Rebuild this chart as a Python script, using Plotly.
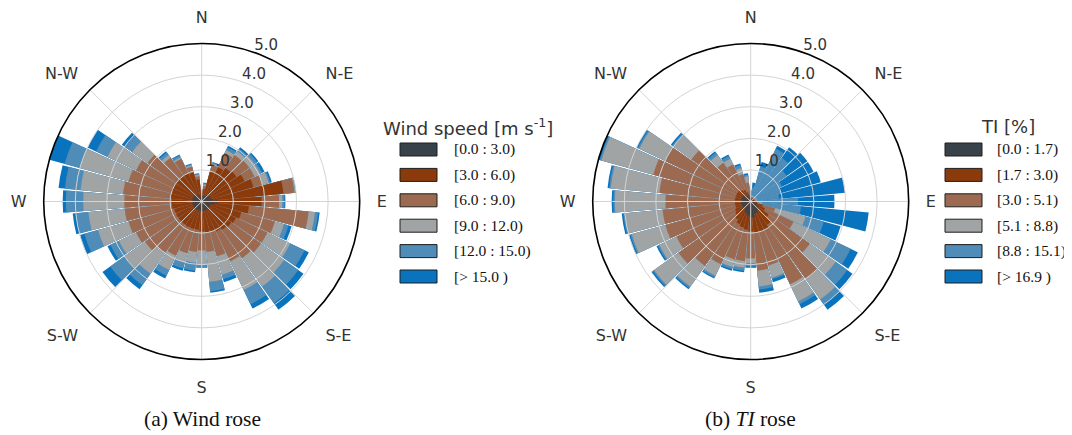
import plotly.graph_objects as go

W, H = 1072, 435
OFF = 8  # default body margin of the written page

# ---------------- data ----------------
directions = [0, 10, 20, 30, 40, 50, 60, 70, 80, 90, 100, 110, 120, 130, 140, 150, 160, 170,
              180, 190, 200, 210, 220, 230, 240, 250, 260, 270, 280, 290, 300, 310, 320, 330, 340, 350]

# total frequency per direction sector (same in both roses)
total_freq = [0.35, 0.6, 1.3, 1.95, 2.1, 2.2, 2.2, 2.3, 3.0, 2.65, 3.75, 2.95, 3.75, 3.95, 4.2, 3.75, 2.65, 2.9,
              2.1, 2.25, 2.27, 2.7, 3.4, 3.85, 3.3, 4.0, 4.1, 4.4, 4.55, 5.0, 4.0, 3.1, 1.95, 1.65, 1.25, 0.9]

# cumulative frequency of wind speed below each class upper bound
speed_below_3 = [0.15, 0.2, 0.2, 0.2, 0.25, 0.25, 0.3, 0.3, 0.35, 0.5, 0.4, 0.3, 0.3, 0.3, 0.3, 0.3, 0.3, 0.3,
                 0.3, 0.3, 0.3, 0.3, 0.3, 0.3, 0.3, 0.3, 0.3, 0.3, 0.3, 0.3, 0.3, 0.3, 0.25, 0.25, 0.2, 0.15]
speed_below_6 = [0.25, 0.4, 1.0, 1.2, 1.3, 1.35, 1.5, 1.7, 2.6, 1.9, 1.5, 1.3, 1.2, 1.15, 1.1, 1.05, 1.0, 1.0,
                 0.95, 0.9, 0.9, 0.9, 0.9, 0.9, 0.9, 0.9, 0.95, 0.95, 1.0, 1.0, 1.0, 1.0, 1.0, 1.0, 0.95, 0.7]
speed_below_9 = [0.3, 0.5, 1.2, 1.7, 1.8, 1.85, 1.85, 2.0, 2.95, 2.45, 3.4, 2.4, 2.3, 2.3, 2.2, 2.1, 1.8, 1.6,
                 1.55, 1.6, 1.7, 1.9, 2.0, 2.2, 2.3, 2.4, 2.45, 2.45, 2.5, 2.4, 2.3, 2.1, 1.7, 1.5, 1.15, 0.8]
speed_below_12 = [0.33, 0.55, 1.25, 1.8, 1.95, 2.05, 2.05, 2.2, 2.97, 2.55, 3.6, 2.7, 3.1, 3.2, 3.3, 3.1, 2.4, 2.55,
                  2.0, 1.95, 2.0, 2.4, 2.8, 3.0, 2.9, 3.4, 3.6, 3.75, 3.85, 4.0, 3.3, 2.7, 1.8, 1.55, 1.2, 0.85]
speed_below_15 = [0.34, 0.58, 1.28, 1.9, 2.05, 2.15, 2.12, 2.25, 2.99, 2.62, 3.7, 2.85, 3.6, 3.75, 3.95, 3.6, 2.55, 2.85,
                  2.07, 2.2, 2.2, 2.6, 3.25, 3.55, 3.2, 3.85, 4.0, 4.3, 4.35, 4.5, 3.7, 3.0, 1.9, 1.62, 1.23, 0.88]

# cumulative frequency of turbulence intensity below each class upper bound
ti_below_1_7 = [0.1, 0.1, 0.1, 0.1, 0.1, 0.1, 0.1, 0.1, 0.1, 0.12, 0.15, 0.2, 0.25, 0.3, 0.35, 0.4, 0.4, 0.5,
                0.5, 0.45, 0.4, 0.35, 0.3, 0.3, 0.3, 0.3, 0.3, 0.3, 0.3, 0.3, 0.3, 0.3, 0.25, 0.2, 0.15, 0.1]
ti_below_3_0 = [0.12, 0.12, 0.12, 0.12, 0.12, 0.12, 0.12, 0.12, 0.13, 0.15, 0.2, 0.4, 0.5, 0.7, 0.9, 1.0, 1.0, 1.0,
                0.95, 0.9, 0.85, 0.8, 0.7, 0.6, 0.55, 0.5, 0.5, 0.5, 0.5, 0.5, 0.5, 0.5, 0.45, 0.4, 0.3, 0.2]
ti_below_5_1 = [0.14, 0.15, 0.15, 0.15, 0.15, 0.15, 0.15, 0.15, 0.16, 0.2, 0.25, 0.8, 1.5, 2.3, 3.0, 2.9, 2.1, 2.2,
                1.8, 1.9, 1.9, 2.2, 2.5, 2.8, 2.6, 2.8, 2.8, 2.7, 2.9, 3.2, 3.0, 2.3, 1.5, 1.3, 0.9, 0.6]
ti_below_8_8 = [0.16, 0.2, 0.2, 0.2, 0.2, 0.2, 0.2, 0.2, 0.2, 0.25, 0.35, 1.8, 2.8, 3.3, 3.8, 3.5, 2.5, 2.7,
                1.95, 2.1, 2.15, 2.6, 3.3, 3.75, 3.2, 3.9, 4.0, 4.3, 4.45, 4.9, 3.9, 3.0, 1.8, 1.5, 1.1, 0.8]
ti_below_15_1 = [0.3, 0.45, 1.15, 1.85, 1.7, 1.4, 1.1, 1.0, 0.9, 1.5, 1.6, 2.4, 3.5, 3.75, 4.0, 3.6, 2.55, 2.8,
                 2.05, 2.2, 2.22, 2.66, 3.36, 3.8, 3.25, 3.95, 4.05, 4.35, 4.5, 4.95, 3.95, 3.05, 1.9, 1.6, 1.2, 0.85]

speed_labels = ["[0.0 : 3.0)", "[3.0 : 6.0)", "[6.0 : 9.0)", "[9.0 : 12.0)", "[12.0 : 15.0)", "[> 15.0 )"]
ti_labels = ["[0.0 : 1.7)", "[1.7 : 3.0)", "[3.0 : 5.1)", "[5.1 : 8.8)", "[8.8 : 15.1)", "[> 16.9 )"]

compass_vals = [0, 45, 90, 135, 180, 225, 270, 315]
compass_text = ["N", "N-E", "E", "S-E", "S", "S-W", "W", "N-W"]
radial_vals = [1, 2, 3, 4, 5]
radial_text = ["1.0", "2.0", "3.0", "4.0", "5.0"]
RADIAL_LABEL_THETA = 22.5   # direction along which the radial tick labels sit
RADIAL_LABEL_SHIFT = 0.33   # labels sit just outside their ring

colors = ["#3a4249", "#8b3a0c", "#9b6a51", "#a1a4a5", "#4f8cb7", "#0a73be"]
GRID = "#d2d4d6"
TXT = "#333333"

R_MAX = 5.0          # radial range of the roses
R_LABEL_MAX = 6.0    # radial range of the (larger) label layer

speed_layers = [speed_below_3, speed_below_6, speed_below_9, speed_below_12, speed_below_15, total_freq]
ti_layers = [ti_below_1_7, ti_below_3_0, ti_below_5_1, ti_below_8_8, ti_below_15_1, total_freq]

fig = go.Figure()

# bars: draw largest cumulative first, smaller on top (overlay)
for subplot, layers in (("polar", speed_layers), ("polar2", ti_layers)):
    for k in reversed(range(6)):
        fig.add_trace(go.Barpolar(
            r=layers[k], theta=directions, width=9.3,
            marker=dict(color=colors[k], line=dict(width=0)),
            subplot=subplot, showlegend=False, hoverinfo="skip"))

# grid overlay subplots need a (empty) trace
for subplot in ("polar3", "polar4"):
    fig.add_trace(go.Barpolar(r=[], theta=[], subplot=subplot, showlegend=False, hoverinfo="skip"))

# radial tick labels on a concentric label layer with a larger range (same scale)
for subplot in ("polar5", "polar6"):
    fig.add_trace(go.Scatterpolar(
        r=[v + RADIAL_LABEL_SHIFT for v in radial_vals],
        theta=[RADIAL_LABEL_THETA] * len(radial_vals),
        text=radial_text, mode="text", textposition="middle center",
        textfont=dict(family="DejaVu Sans", size=15, color=TXT),
        cliponaxis=False, subplot=subplot, showlegend=False, hoverinfo="skip"))


def px_x(x):
    return (x - OFF) / W


def px_y(y):
    return 1 - (y - OFF) / H


CY = 201.5      # centre row of both roses (px)
RAD = 158.0     # outer radius (px)


def dom(cx, scale=1.0):
    r = RAD * scale
    return dict(x=[px_x(cx - r), px_x(cx + r)], y=[px_y(CY + r), px_y(CY - r)])


def base_polar(cx):
    return dict(
        domain=dom(cx), bgcolor="white", barmode="overlay",
        angularaxis=dict(rotation=90, direction="clockwise", showgrid=False, showline=False,
                         showticklabels=False, ticks=""),
        radialaxis=dict(range=[0, R_MAX], showgrid=False, showline=False, showticklabels=False, ticks=""),
    )


def grid_polar(cx):
    return dict(
        domain=dom(cx), bgcolor="rgba(0,0,0,0)",
        angularaxis=dict(rotation=90, direction="clockwise", tickmode="array",
                         tickvals=compass_vals, ticktext=compass_text,
                         showgrid=True, gridcolor=GRID, gridwidth=1.3,
                         showline=True, linecolor="black", linewidth=1.6,
                         ticks="outside", ticklen=13, tickcolor="rgba(0,0,0,0)",
                         tickfont=dict(family="DejaVu Sans", size=16, color=TXT)),
        radialaxis=dict(range=[0, R_MAX], tickmode="array", tickvals=radial_vals,
                        showticklabels=False, showline=False, ticks="",
                        showgrid=True, gridcolor=GRID, gridwidth=1.3),
    )


def label_polar(cx):
    return dict(
        domain=dom(cx, R_LABEL_MAX / R_MAX), bgcolor="rgba(0,0,0,0)",
        angularaxis=dict(rotation=90, direction="clockwise", showgrid=False, showline=False,
                         showticklabels=False, ticks=""),
        radialaxis=dict(range=[0, R_LABEL_MAX], showgrid=False, showline=False,
                        showticklabels=False, ticks=""),
    )


CX_L, CX_R = 201.7, 750.7

fig.update_layout(
    width=W, height=H, margin=dict(l=0, r=0, t=0, b=0),
    paper_bgcolor="white", plot_bgcolor="white",
    polar=base_polar(CX_L), polar2=base_polar(CX_R),
    polar3=grid_polar(CX_L), polar4=grid_polar(CX_R),
    polar5=label_polar(CX_L), polar6=label_polar(CX_R),
    showlegend=False,
)

# legends (drawn as swatches + text)
shapes = []
annotations = []
for (sx0, tx, title, title_x, labels) in (
        (400, 452, "Wind speed [m s<sup>-1</sup>]", 468, speed_labels),
        (945, 995, "TI [%]", 1008, ti_labels)):
    annotations.append(dict(x=px_x(title_x), y=px_y(127), xref="paper", yref="paper",
                            text=title, showarrow=False, xanchor="center", yanchor="middle",
                            font=dict(family="DejaVu Sans", size=18, color=TXT)))
    for i, lab in enumerate(labels):
        yc = 149.5 + 25.4 * i
        shapes.append(dict(type="rect", xref="paper", yref="paper",
                           x0=px_x(sx0), x1=px_x(sx0 + 37), y0=px_y(yc - 6.5), y1=px_y(yc + 6.5),
                           fillcolor=colors[i], line=dict(color="#1e1e1e", width=1)))
        annotations.append(dict(x=px_x(tx), y=px_y(yc), xref="paper", yref="paper",
                                text=lab, showarrow=False, xanchor="left", yanchor="middle",
                                font=dict(family="Liberation Serif", size=15.5, color="#111")))

# captions
annotations.append(dict(x=px_x(202), y=px_y(419), xref="paper", yref="paper",
                        text="(a) Wind rose", showarrow=False, xanchor="center", yanchor="middle",
                        font=dict(family="Liberation Serif", size=21.5, color="#111")))
annotations.append(dict(x=px_x(750), y=px_y(419), xref="paper", yref="paper",
                        text="(b) <i>TI</i> rose", showarrow=False, xanchor="center", yanchor="middle",
                        font=dict(family="Liberation Serif", size=21.5, color="#111")))

fig.update_layout(shapes=shapes, annotations=annotations)

fig.write_html("out.html")
